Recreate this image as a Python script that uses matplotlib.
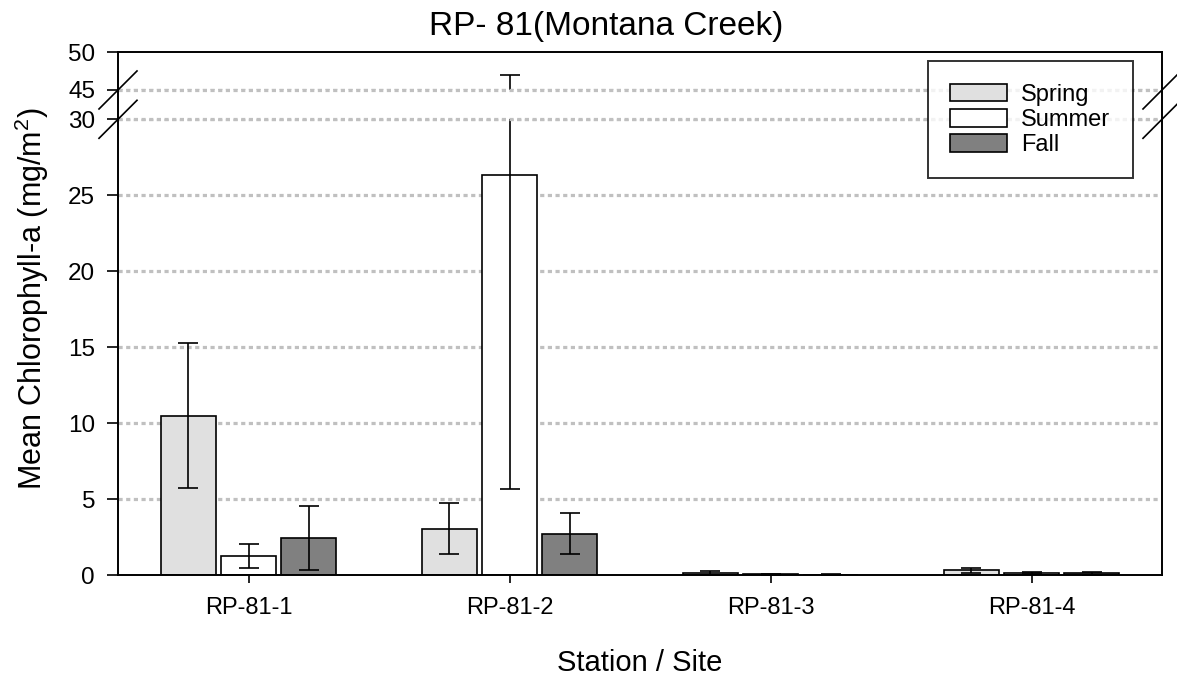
import numpy as np
import matplotlib
matplotlib.use('Agg')
import matplotlib.pyplot as plt
from matplotlib.patches import Patch

plt.rcParams['font.family'] = ['Liberation Sans', 'DejaVu Sans']
plt.rcParams['mathtext.fontset'] = 'custom'
plt.rcParams['mathtext.rm'] = 'Liberation Sans'
plt.rcParams['mathtext.it'] = 'Liberation Sans:italic'

# data
stations = ['RP-81-1', 'RP-81-2', 'RP-81-3', 'RP-81-4']
seasons = ['Spring', 'Summer', 'Fall']
spring = [10.5, 3.05, 0.15, 0.3]
spring_err = [4.8, 1.67, 0.12, 0.18]
summer = [1.27, 26.35, 0.04, 0.12]
summer_err = [0.78, 20.7, 0.05, 0.06]
fall = [2.45, 2.72, 0.03, 0.1]
fall_err = [2.12, 1.33, 0.04, 0.08]
yticks = [0, 5, 10, 15, 20, 25, 30, 45, 50]
gridlines = [5, 10, 15, 20, 25, 30, 45]

colors = ['#e0e0e0', '#ffffff', '#808080']

# broken axis: 0-30 linear, 30-45 squeezed, 45-50 at half scale
brk_in = [-1000, 0, 30, 45, 50, 1000]
brk_out = [-1000, 0, 30, 31.93, 34.41, 34.41 + 950 * 0.496]


def fwd(y):
    return np.interp(y, brk_in, brk_out)


def inv(y):
    return np.interp(y, brk_out, brk_in)


W, H = 1177, 677
fig = plt.figure(figsize=(W / 100, H / 100), dpi=100)
ax = fig.add_axes([118 / W, (H - 575) / H, 1044 / W, (575 - 52.3) / H])
ax.set_yscale('function', functions=(fwd, inv))

x = np.arange(len(stations))
width = 0.21
offsets = [-0.23, 0, 0.23]
for vals, errs, off, col, lab in zip([spring, summer, fall],
                                     [spring_err, summer_err, fall_err],
                                     offsets, colors, seasons):
    ax.bar(x + off, vals, width, color=col, edgecolor='black', linewidth=1.2,
           label=lab, zorder=2)
    ax.errorbar(x + off, vals, yerr=errs, fmt='none', ecolor='black',
                elinewidth=1.2, capsize=7, capthick=1.2, zorder=2.5)

# hide everything inside the break
ax.axhspan(30, 45, color='white', zorder=2.8, linewidth=0)
grid_style = dict(color='#c0c0c0', linewidth=2.3, linestyle=(0, (1.3, 1.1)))
for g in gridlines:
    ax.axhline(g, zorder=1, **grid_style)
    if g in (30, 45):
        ax.axhline(g, zorder=2.9, **grid_style)

ax.set_ylim(0, 50)
ax.set_xlim(-0.5, 3.5)
ax.set_yticks(yticks)
ax.set_xticks(x)
ax.set_xticklabels(stations)
ax.tick_params(axis='y', labelsize=17.5, length=8, width=1.2, pad=8.5, direction='out')
ax.tick_params(axis='x', labelsize=17, length=5.5, width=1.2, pad=10, direction='out')
for s in ax.spines.values():
    s.set_linewidth(1.4)
    s.set_zorder(5)

# break marks on both spines
for yb in (30, 45):
    yf = (fwd(yb) - fwd(0)) / (fwd(50) - fwd(0))
    dy = 19 / 522.7
    dx = 19 / 1044
    for xs in (0, 1):
        ax.plot([xs - dx, xs + dx], [yf - dy, yf + dy], transform=ax.transAxes,
                color='black', linewidth=1.2, clip_on=False, zorder=6)

handles = [Patch(facecolor=c, edgecolor='black', linewidth=1.2, label=l)
           for c, l in zip(colors, seasons)]
leg = ax.legend(handles=handles, loc='upper right', bbox_to_anchor=(0.972, 0.983),
                fontsize=17, frameon=True, fancybox=False, edgecolor='black',
                handlelength=2.4, handleheight=0.78, labelspacing=0.13,
                handletextpad=0.6, borderpad=0.95, borderaxespad=0)
leg.get_frame().set_linewidth(1.4)
leg.set_zorder(7)

fig.text(606 / W, 1 - 35 / H, 'RP- 81(Montana Creek)', fontsize=24,
         ha='center', va='baseline')
fig.text(640 / W, 1 - 671 / H, 'Station / Site', fontsize=21,
         ha='center', va='baseline')
fig.text(32 / W, 1 - 299 / H, 'Mean Chlorophyll-a (mg/m$^2$)', fontsize=22,
         ha='center', va='center', rotation=90)

fig.savefig('out.png', dpi=100)
